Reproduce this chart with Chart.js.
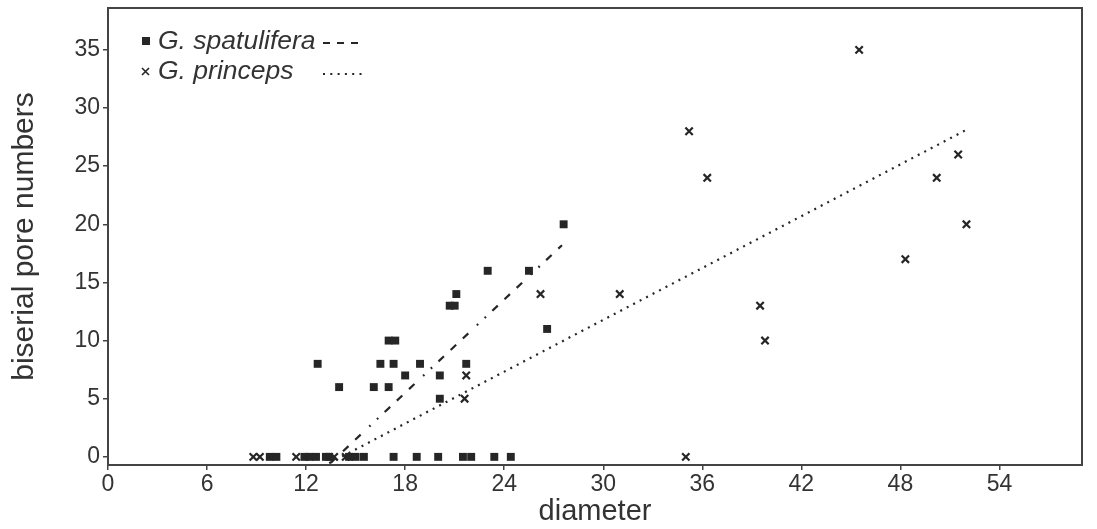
<!DOCTYPE html>
<html>
<head>
<meta charset="utf-8">
<script src="https://cdn.jsdelivr.net/npm/chart.js@4"></script>
<style>
    html, body { margin: 0; padding: 0; background: #fff; }
    #contenedor { width: 1097px; height: 529px; }
</style>
</head>
<body>
<div id="contenedor"><canvas id="grafico"></canvas></div>
<script>
// G. spatulifera (cuadrados)
const spatX = [12.7, 14.0, 16.1, 17.0, 16.5, 17.3, 18.9, 17.0, 17.4, 18.0, 20.1, 20.1, 21.7, 20.7, 21.0, 21.1, 23.0, 25.5, 26.6, 27.6,
               9.8, 10.2, 11.9, 12.2, 12.6, 13.2, 13.4, 14.6, 15.0, 15.5, 17.3, 18.7, 20.0, 21.5, 22.0, 23.4, 24.4];
const spatY = [8, 6, 6, 6, 8, 8, 8, 10, 10, 7, 7, 5, 8, 13, 13, 14, 16, 16, 11, 20,
               0, 0, 0, 0, 0, 0, 0, 0, 0, 0, 0, 0, 0, 0, 0, 0, 0];

// G. princeps (cruces)
const princX = [8.8, 9.2, 11.4, 13.7, 14.4, 21.6, 21.7, 26.2, 31.0, 35.2, 36.3, 35.0, 39.5, 39.8, 45.5, 48.3, 50.2, 51.5, 52.0];
const princY = [0, 0, 0, 0, 0, 5, 7, 14, 14, 28, 24, 0, 13, 10, 35, 17, 24, 26, 20];

// Rectas de tendencia (extremos)
const spatTrendX = [13.5, 27.5];
const spatTrendY = [-0.5, 18.2];
const princTrendX = [13.4, 52.1];
const princTrendY = [-0.55, 28.2];

// Marcas de los ejes
const xTicks = [0, 6, 12, 18, 24, 30, 36, 42, 48, 54];
const yTicks = [0, 5, 10, 15, 20, 25, 30, 35];

const etiquetas = ["G. spatulifera", "G. princeps"];

const TINTA = "#262626";
const EJE = "#444444";
const TEXTO = "#333333";
const FUENTE = "'Liberation Sans', Arial, sans-serif";

const aPuntos = (xs, ys) => xs.map((x, i) => ({ x: x, y: ys[i] }));

// Trazo de la recta de spatulifera: tres rayas y dos puntos
const patronRaya = [7.5, 9.2, 7.5, 9.2, 7.5, 11.8, 1.8, 8.8, 1.8, 8.8];

// Recuadro completo alrededor del área
const marco = {
    id: "marco",
    afterDraw(chart) {
        const { ctx, chartArea: a } = chart;
        ctx.save();
        ctx.strokeStyle = EJE;
        ctx.lineWidth = 2;
        ctx.strokeRect(a.left, a.top, a.right - a.left, a.bottom - a.top);
        ctx.restore();
    }
};

// Leyenda dibujada a mano: marcador, nombre y muestra de la recta
const leyenda = {
    id: "leyenda",
    afterDraw(chart) {
        const ctx = chart.ctx;
        ctx.save();
        ctx.fillStyle = TINTA;
        ctx.strokeStyle = TINTA;

        // fila 1
        ctx.fillRect(142, 37, 8, 8);
        ctx.fillStyle = TEXTO;
        ctx.font = "italic 26.5px " + FUENTE;
        ctx.textBaseline = "middle";
        ctx.fillText(etiquetas[0], 158, 42);
        ctx.lineWidth = 2;
        ctx.setLineDash([7, 7]);
        ctx.beginPath();
        ctx.moveTo(323, 43);
        ctx.lineTo(365, 43);
        ctx.stroke();

        // fila 2
        ctx.setLineDash([]);
        ctx.lineWidth = 1.6;
        ctx.beginPath();
        ctx.moveTo(142, 68); ctx.lineTo(149, 75);
        ctx.moveTo(149, 68); ctx.lineTo(142, 75);
        ctx.stroke();
        ctx.fillText(etiquetas[1], 158, 72);
        ctx.lineWidth = 2;
        ctx.setLineDash([2, 5.3]);
        ctx.beginPath();
        ctx.moveTo(323, 74);
        ctx.lineTo(366, 74);
        ctx.stroke();
        ctx.restore();
    }
};

function inicializarGrafico() {
    const ctx = document.getElementById("grafico").getContext("2d");
    new Chart(ctx, {
        type: "scatter",
        data: {
            datasets: [{
                label: etiquetas[0],
                data: aPuntos(spatX, spatY),
                pointStyle: "rect",
                pointRadius: 5.6,
                backgroundColor: TINTA,
                borderWidth: 0,
            }, {
                label: etiquetas[1],
                data: aPuntos(princX, princY),
                pointStyle: "crossRot",
                pointRadius: 5.2,
                borderColor: TINTA,
                borderWidth: 2.2,
            }, {
                label: etiquetas[0] + " (recta)",
                data: aPuntos(spatTrendX, spatTrendY),
                showLine: true,
                pointRadius: 0,
                borderColor: TINTA,
                borderWidth: 2.2,
                borderDash: patronRaya,
            }, {
                label: etiquetas[1] + " (recta)",
                data: aPuntos(princTrendX, princTrendY),
                showLine: true,
                pointRadius: 0,
                borderColor: TINTA,
                borderWidth: 2.2,
                borderDash: [2, 5.3],
            }],
        },
        options: {
            responsive: true,
            maintainAspectRatio: false,
            animation: false,
            layout: { padding: { top: 8, right: 15, left: 0, bottom: 0 } },
            plugins: {
                legend: { display: false },
                tooltip: { enabled: false },
            },
            scales: {
                x: {
                    type: "linear",
                    min: 0,
                    max: 59,
                    afterBuildTicks: (eje) => { eje.ticks = xTicks.map(v => ({ value: v })); },
                    afterFit: (eje) => { eje.height = 64; eje.paddingLeft = 0; eje.paddingRight = 0; },
                    border: { display: true, color: EJE, width: 2 },
                    grid: { drawOnChartArea: false, drawTicks: true, tickLength: 5, color: EJE, lineWidth: 1.5 },
                    ticks: { color: TEXTO, font: { family: FUENTE, size: 23 }, padding: 1, maxRotation: 0 },
                    title: { display: true, text: "diameter", color: TEXTO, font: { family: FUENTE, size: 29 }, padding: 0 },
                },
                y: {
                    type: "linear",
                    min: -0.7,
                    max: 38.6,
                    afterBuildTicks: (eje) => { eje.ticks = yTicks.map(v => ({ value: v })); },
                    afterFit: (eje) => { eje.width = 108; eje.paddingTop = 0; eje.paddingBottom = 0; },
                    border: { display: true, color: EJE, width: 2 },
                    grid: { drawOnChartArea: false, drawTicks: true, tickLength: 5, color: EJE, lineWidth: 1.5 },
                    ticks: { color: TEXTO, font: { family: FUENTE, size: 23 }, padding: 3 },
                    title: { display: true, text: "biserial pore numbers", color: TEXTO, font: { family: FUENTE, size: 30 }, padding: { top: 7, bottom: 0 } },
                },
            },
        },
        plugins: [marco, leyenda],
    });
}

window.onload = inicializarGrafico;
</script>
</body>
</html>
